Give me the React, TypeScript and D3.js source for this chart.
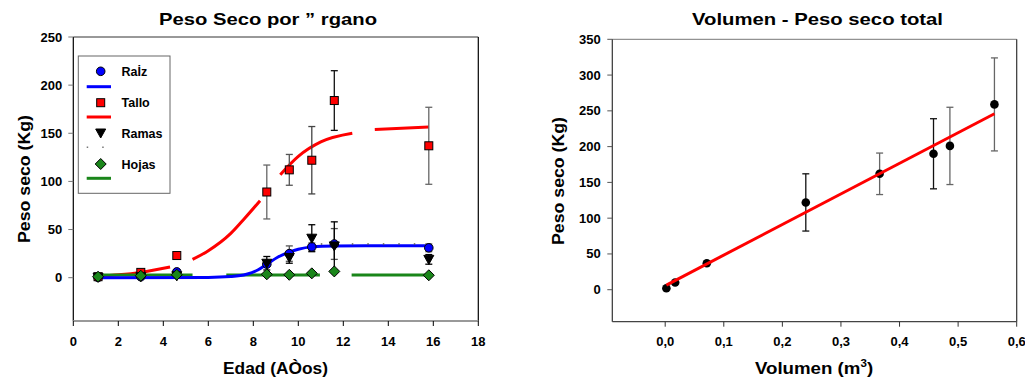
import React from "react";
import * as d3 from "d3";

// ---------- Left chart data: Peso seco por órgano ----------
const edad = [1.1, 3.0, 4.6, 8.6, 9.6, 10.6, 11.6, 15.8];
const raiz = [0.3, 1, 6, 14, 25, 32, 35, 31];
const raizErr = [0, 0, 0, 0, 8, 4, 16, 4];
const tallo = [1, 5.5, 23, 89, 112, 122, 184, 137];
const talloErr = [0, 0, 0, 28, 16, 35, 31, 40];
const ramas = [0.5, 1, 2, 15, 21, 41, 33, 19];
const ramasErr = [0, 0, 0, 7, 6, 14, 25, 5];
const hojas = [1, 2, 3, 3.5, 3, 4.5, 6.5, 2.5];

// fitted curves (x, y)
const talloFit: [number, number][] = [
  [1.1, 1.5], [2, 3], [3, 5.5], [4.3, 11], [5.3, 19], [6, 28], [7, 46], [7.63, 62],
  [8.3, 80], [9.2, 107], [10, 126], [11, 141], [12.4, 150], [13.4, 154], [15.8, 156.5],
];
const talloFitSegments: [number, number][] = [[1.1, 4.3], [5.3, 8.3], [9.2, 12.4], [13.4, 15.8]];
const raizFit: [number, number][] = [
  [1.1, 0], [6, 0.3], [7, 1.2], [7.7, 3.5], [8.2, 8], [8.6, 14], [9.1, 21.5], [9.6, 26.5],
  [10, 29.5], [10.6, 32], [11.6, 33], [13, 33.2], [15.8, 33.2],
];
const ramasFit: [number, number][] = [[11.0, 35], [15.8, 35]];
const hojasFit: [number, number][] = [[1.1, 2.8], [5.3, 2.8], [6.8, 2.8], [10.96, 2.8], [12.37, 2.8], [15.8, 2.8]];
const hojasFitSegments: [number, number][] = [[1.1, 5.3], [6.8, 10.96], [12.37, 15.8]];

const leftXTicks = [0, 2, 4, 6, 8, 10, 12, 14, 16, 18];
const leftYTicks = [0, 50, 100, 150, 200, 250];

// ---------- Right chart data: Volumen - Peso seco total ----------
const volumen = [0.002, 0.017, 0.071, 0.24, 0.366, 0.458, 0.486, 0.562];
const pesoTotal = [2, 10, 37, 122, 162, 190, 201, 259];
const pesoTotalErr = [0, 0, 0, 40, 29, 49, 54, 65];
const volFit: [number, number][] = [[0.002, 6.5], [0.562, 246]];
const rightXTicks = [0, 0.1, 0.2, 0.3, 0.4, 0.5, 0.6];
const rightYTicks = [0, 50, 100, 150, 200, 250, 300, 350];

// ---------- styles ----------
const FONT = "'Liberation Sans', Arial, sans-serif";
const BLUE = "#0000ff";
const RED = "#ff0000";
const GREEN = "#1a861a";
const rightBarColors = ["#000", "#000", "#000", "#111", "#666", "#111", "#666", "#666"];
const talloBarColors = ["#666", "#666", "#666", "#666", "#555", "#444", "#111", "#666"];

function ErrBar({ x, y0, y1, color }: { x: number; y0: number; y1: number; color: string }) {
  return (
    <g stroke={color} strokeWidth={1.3}>
      <line x1={x} x2={x} y1={y0} y2={y1} />
      <line x1={x - 3.5} x2={x + 3.5} y1={y0} y2={y0} />
      <line x1={x - 3.5} x2={x + 3.5} y1={y1} y2={y1} />
    </g>
  );
}

function Marker({ kind, x, y, fill }: { kind: string; x: number; y: number; fill: string }) {
  if (kind === "circle") return <circle cx={x} cy={y} r={4.3} fill={fill} stroke="#000" strokeWidth={1} />;
  if (kind === "square") return <rect x={x - 4} y={y - 4} width={8} height={8} fill={fill} stroke="#000" strokeWidth={1} />;
  if (kind === "tri") return <path d={`M${x - 5},${y - 4} L${x + 5},${y - 4} L${x},${y + 5} Z`} fill={fill} stroke="#000" strokeWidth={1} />;
  return <path d={`M${x},${y - 5.5} L${x + 5.5},${y} L${x},${y + 5.5} L${x - 5.5},${y} Z`} fill={fill} stroke="#000" strokeWidth={1} />;
}

function Label({ x, y, len, size, rotate, children }: { x: number; y: number; len: number; size: number; rotate?: boolean; children: React.ReactNode }) {
  return (
    <text
      transform={rotate ? `translate(${x},${y}) rotate(-90)` : undefined}
      x={rotate ? 0 : x}
      y={rotate ? 0 : y}
      textAnchor="middle"
      fontFamily={FONT}
      fontWeight="bold"
      fontSize={size}
      textLength={len}
      lengthAdjust="spacingAndGlyphs"
    >
      {children}
    </text>
  );
}

function LeftChart() {
  const L = 73.3, R = 478.3, T = 37, B = 321;
  const x = d3.scaleLinear().domain([0, 18]).range([L, R]);
  const y = d3.scaleLinear().domain([-45, 250]).range([B, T]);
  const line = d3.line<[number, number]>().x((d) => x(d[0])).y((d) => y(d[1])).curve(d3.curveMonotoneX);
  const seg = (pts: [number, number][], segs: [number, number][]) =>
    segs.map(([a, b]) => line(pts.filter((p) => p[0] >= a - 1e-9 && p[0] <= b + 1e-9)) || "");

  const series = [
    { vals: raiz, err: raizErr, kind: "circle", fill: BLUE, bar: () => "#555" },
    { vals: tallo, err: talloErr, kind: "square", fill: RED, bar: (i: number) => talloBarColors[i] },
    { vals: ramas, err: ramasErr, kind: "tri", fill: "#000", bar: () => "#000" },
  ];

  return (
    <g>
      <Label x={268} y={24.5} len={218} size={17}>Peso Seco por ” rgano</Label>
      {/* frame */}
      <line x1={L} x2={R} y1={T} y2={T} stroke="#333" strokeWidth={1} />
      <line x1={R} x2={R} y1={T} y2={B} stroke="#000" strokeWidth={1.2} />
      <line x1={L} x2={L} y1={T} y2={B} stroke="#000" strokeWidth={1.2} />
      <line x1={L} x2={R} y1={B} y2={B} stroke="#999" strokeWidth={2} />
      {leftYTicks.map((t) => (
        <g key={t}>
          <line x1={L - 5} x2={L} y1={y(t)} y2={y(t)} stroke="#777" strokeWidth={1} />
          <text x={L - 11} y={y(t) + 4.5} textAnchor="end" fontFamily={FONT} fontWeight="bold" fontSize={13}>
            {t}
          </text>
        </g>
      ))}
      {leftXTicks.map((t) => (
        <g key={t}>
          <line x1={x(t)} x2={x(t)} y1={B} y2={B + 5} stroke="#000" strokeWidth={1} />
          <text x={x(t)} y={346} textAnchor="middle" fontFamily={FONT} fontWeight="bold" fontSize={13}>
            {t}
          </text>
        </g>
      ))}
      <Label x={275.5} y={373.5} len={105} size={17}>Edad (AÒos)</Label>
      <Label x={30} y={179} len={128} size={17} rotate>Peso seco (Kg)</Label>

      {/* fit curves */}
      {seg(talloFit, talloFitSegments).map((d, i) => (
        <path key={"t" + i} d={d} fill="none" stroke={RED} strokeWidth={3} />
      ))}
      {seg(hojasFit, hojasFitSegments).map((d, i) => (
        <path key={"h" + i} d={d} fill="none" stroke={GREEN} strokeWidth={3} />
      ))}
      <path d={line(raizFit) || ""} fill="none" stroke={BLUE} strokeWidth={3} />
      <path d={line(ramasFit) || ""} fill="none" stroke="#555" strokeWidth={1.5} strokeDasharray="1.5 14" />

      {/* error bars and markers */}
      {series.map((s, si) =>
        s.vals.map((v, i) =>
          s.err[i] > 0 ? (
            <ErrBar key={`e${si}-${i}`} x={x(edad[i])} y0={y(v + s.err[i])} y1={y(v - s.err[i])} color={s.bar(i)} />
          ) : null
        )
      )}
      {series.map((s, si) =>
        s.vals.map((v, i) => <Marker key={`m${si}-${i}`} kind={s.kind} x={x(edad[i])} y={y(v)} fill={s.fill} />)
      )}
      {hojas.map((v, i) => (
        <Marker key={`hj${i}`} kind="diamond" x={x(edad[i])} y={y(v)} fill={GREEN} />
      ))}

      {/* legend */}
      <rect x={78.3} y={56} width={91.7} height={137.3} fill="#fff" stroke="#666" strokeWidth={1} />
      {[
        { label: "Raİz", kind: "circle", fill: BLUE, ly: 71.3, lineY: 86.7, stroke: BLUE, dash: "" },
        { label: "Tallo", kind: "square", fill: RED, ly: 102.7, lineY: 117, stroke: RED, dash: "" },
        { label: "Ramas", kind: "tri", fill: "#000", ly: 133, lineY: 147.3, stroke: "#777", dash: "1.5 14" },
        { label: "Hojas", kind: "diamond", fill: GREEN, ly: 164, lineY: 178.3, stroke: GREEN, dash: "" },
      ].map((e) => (
        <g key={e.label}>
          <Marker kind={e.kind} x={100.7} y={e.ly} fill={e.fill} />
          <text x={121.5} y={e.ly + 4.5} fontFamily={FONT} fontWeight="bold" fontSize={12.5}>
            {e.label}
          </text>
          <line
            x1={86.7}
            x2={111}
            y1={e.lineY}
            y2={e.lineY}
            stroke={e.stroke}
            strokeWidth={e.dash ? 1.5 : 3}
            strokeDasharray={e.dash || undefined}
          />
        </g>
      ))}
    </g>
  );
}

function RightChart() {
  const L = 612.3, R = 1016.7, T = 39.3, B = 321.7;
  const x = d3.scaleLinear().domain([-0.0903, 0.6]).range([L, R]);
  const y = d3.scaleLinear().domain([-44.7, 350]).range([B, T]);
  const line = d3.line<[number, number]>().x((d) => x(d[0])).y((d) => y(d[1]));
  const fmt = (v: number) => d3.format(".1f")(v).replace(".", ",");
  return (
    <g>
      <Label x={817.5} y={24.5} len={251} size={17}>Volumen - Peso seco total</Label>
      <line x1={L} x2={R} y1={T} y2={T} stroke="#777" strokeWidth={1} />
      <line x1={R} x2={R} y1={T} y2={B} stroke="#333" strokeWidth={1.2} />
      <line x1={L} x2={L} y1={T} y2={B} stroke="#333" strokeWidth={1.2} />
      <line x1={L} x2={R} y1={B} y2={B} stroke="#444" strokeWidth={1.3} />
      {rightYTicks.map((t) => (
        <g key={t}>
          <line x1={L - 5} x2={L} y1={y(t)} y2={y(t)} stroke="#555" strokeWidth={1} />
          <text x={L - 11.5} y={y(t) + 4.5} textAnchor="end" fontFamily={FONT} fontWeight="bold" fontSize={13}>
            {t}
          </text>
        </g>
      ))}
      {rightXTicks.map((t) => (
        <g key={t}>
          <line x1={x(t)} x2={x(t)} y1={B} y2={B + 5} stroke="#333" strokeWidth={1} />
          <text x={x(t)} y={346} textAnchor="middle" fontFamily={FONT} fontWeight="bold" fontSize={13}>
            {fmt(t)}
          </text>
        </g>
      ))}
      <g transform="translate(814,374) scale(1.1,1)">
        <text x={0} y={0} textAnchor="middle" fontFamily={FONT} fontWeight="bold" fontSize={17}>
          Volumen (m
          <tspan dy={-7} fontSize={10.5}>3</tspan>
          <tspan dy={7}>)</tspan>
        </text>
      </g>
      <Label x={564} y={181} len={128} size={17} rotate>Peso seco (Kg)</Label>
      {pesoTotal.map((v, i) =>
        pesoTotalErr[i] > 0 ? (
          <ErrBar key={`e${i}`} x={x(volumen[i])} y0={y(v + pesoTotalErr[i])} y1={y(v - pesoTotalErr[i])} color={rightBarColors[i]} />
        ) : null
      )}
      {pesoTotal.map((v, i) => (
        <circle key={`c${i}`} cx={x(volumen[i])} cy={y(v)} r={4.3} fill="#000" />
      ))}
      <path d={line(volFit) || ""} fill="none" stroke={RED} strokeWidth={3} />
    </g>
  );
}

export default function App() {
  return (
    <svg
      width={1025}
      height={381}
      viewBox="0 0 1025 381"
      style={{ position: "absolute", left: 0, top: 0, background: "#fff" }}
    >
      <rect x={0} y={0} width={1025} height={381} fill="#fff" />
      <LeftChart />
      <RightChart />
    </svg>
  );
}
